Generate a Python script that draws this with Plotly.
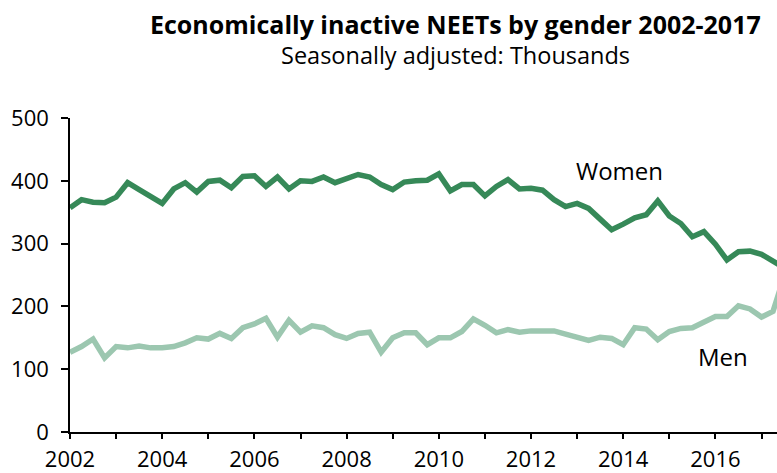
import plotly.graph_objects as go

# Quarterly values, 2002 Q1 onwards (thousands, seasonally adjusted)
quarters = [2002 + q / 4 for q in range(63)]

women = [357, 370, 366, 365, 374, 397, 386, 375, 364, 387,
         397, 382, 399, 401, 389, 407, 408, 391, 406, 387,
         400, 399, 406, 397, 403, 410, 406, 394, 386, 398,
         400, 401, 411, 384, 394, 394, 376, 391, 402, 387,
         388, 385, 370, 359, 364, 356, 339, 322, 331, 341,
         346, 368, 344, 332, 311, 319, 299, 274, 287, 288,
         283, 272, 261]

men = [127, 136, 148, 118, 136, 134, 137, 134, 134, 136,
       142, 150, 148, 157, 149, 166, 172, 181, 151, 178,
       159, 169, 166, 155, 149, 157, 159, 127, 150, 158,
       158, 139, 150, 150, 160, 180, 170, 158, 163, 159,
       161, 161, 161, 156, 151, 146, 151, 149, 139, 166,
       164, 147, 160, 165, 166, 176, 184, 184, 201, 196,
       183, 192, 250]

year_ticks = list(range(2002, 2018))
year_labels = [str(y) if y % 2 == 0 else "" for y in year_ticks]

FONT = "Open Sans"
W, H = 777, 473
L, T, B = 70, 118, 39
px_per_year = 46.1
plot_w = W - L
plot_h = H - T - B

fig = go.Figure()
fig.add_trace(go.Scatter(x=quarters, y=women, name="Women", mode="lines",
                         line=dict(color="#368958", width=5.5)))
fig.add_trace(go.Scatter(x=quarters, y=men, name="Men", mode="lines",
                         line=dict(color="#9cc7b0", width=5.5)))

fig.update_layout(
    width=W, height=H,
    margin=dict(l=L, r=0, t=T, b=B),
    plot_bgcolor="white", paper_bgcolor="white",
    showlegend=False,
    font=dict(family=FONT, size=22, color="#000000"),
)
fig.update_xaxes(range=[2002, 2002 + plot_w / px_per_year],
                 tickvals=year_ticks, ticktext=year_labels,
                 showgrid=False, zeroline=False,
                 showline=True, linecolor="black", linewidth=2,
                 ticks="outside", ticklen=5, tickwidth=1.5, tickcolor="black",
                 ticklabelstandoff=2)
fig.update_yaxes(range=[0, 500], tickvals=[0, 100, 200, 300, 400, 500],
                 showgrid=False, zeroline=False,
                 showline=True, linecolor="black", linewidth=1.5,
                 ticks="outside", ticklen=7, tickwidth=1.5, tickcolor="black",
                 ticklabelstandoff=8)

# series labels (pixel positions converted to data units)
fig.add_annotation(x=2002 + (619 - L) / px_per_year, y=(434 - 171) / 0.632,
                   text="Women", showarrow=False, font=dict(size=24))
fig.add_annotation(x=2002 + (723 - L) / px_per_year, y=(434 - 358) / 0.632,
                   text="Men", showarrow=False, font=dict(size=24))

# title and subtitle
cx = (455 - L) / plot_w
fig.add_annotation(xref="paper", yref="paper", x=cx, y=1 + (T - 23) / plot_h,
                   xanchor="center", yanchor="middle",
                   text="<b>Economically inactive NEETs by gender 2002-2017</b>",
                   showarrow=False, font=dict(size=25))
fig.add_annotation(xref="paper", yref="paper", x=cx, y=1 + (T - 55) / plot_h,
                   xanchor="center", yanchor="middle",
                   text="Seasonally adjusted: Thousands",
                   showarrow=False, font=dict(size=23.5))

# drop the default page margin so the figure sits at the window's corner
fig.write_html("out.html", config={"displayModeBar": False}, post_script=(
    "document.body.style.margin='0';"
    "document.documentElement.style.overflow='hidden';"))
